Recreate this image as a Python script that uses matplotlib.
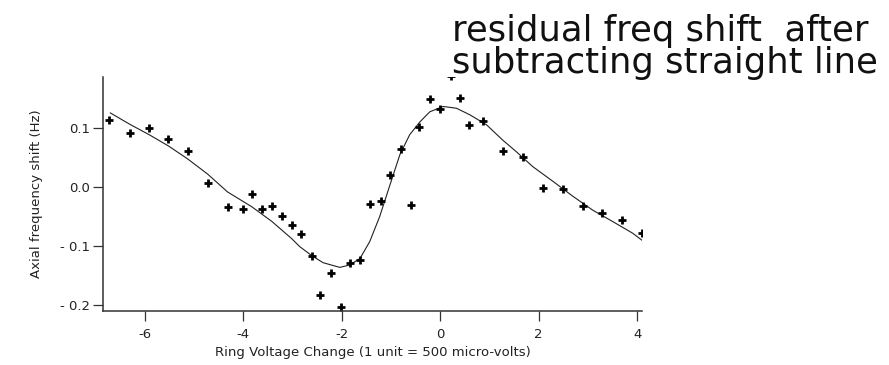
import matplotlib
matplotlib.use("Agg")
import matplotlib.pyplot as plt

# ---- data ----
x_pts = [-6.72, -6.31, -5.91, -5.52, -5.13, -4.72, -4.32, -4.01, -3.83, -3.61,
         -3.42, -3.21, -3.02, -2.83, -2.61, -2.44, -2.21, -2.02, -1.84, -1.62,
         -1.43, -1.21, -1.02, -0.80, -0.60, -0.43, -0.21, -0.01, 0.21, 0.40,
         0.58, 0.87, 1.27, 1.68, 2.09, 2.49, 2.91, 3.29, 3.70, 4.09]
y_pts = [0.114, 0.092, 0.101, 0.082, 0.061, 0.008, -0.033, -0.037, -0.012, -0.037,
         -0.032, -0.048, -0.064, -0.080, -0.116, -0.183, -0.146, -0.203, -0.128, -0.124,
         -0.028, -0.023, 0.020, 0.065, -0.030, 0.103, 0.149, 0.133, 0.188, 0.151,
         0.106, 0.113, 0.061, 0.051, -0.001, -0.003, -0.032, -0.044, -0.056, -0.078]

x_fit = [-6.70, -6.31, -5.91, -5.52, -5.13, -4.72, -4.32, -3.83, -3.42, -3.02,
         -2.85, -2.61, -2.38, -2.04, -1.84, -1.63, -1.43, -1.23, -1.02, -0.82,
         -0.62, -0.41, -0.21, 0.06, 0.33, 0.60, 0.94, 1.27, 1.55, 1.88,
         2.29, 2.69, 3.10, 3.50, 3.91, 4.10]
y_fit = [0.126, 0.107, 0.089, 0.070, 0.048, 0.022, -0.008, -0.033, -0.058, -0.087,
         -0.101, -0.116, -0.128, -0.136, -0.132, -0.121, -0.092, -0.050, 0.004, 0.055,
         0.089, 0.111, 0.128, 0.137, 0.134, 0.123, 0.106, 0.080, 0.060, 0.035,
         0.010, -0.015, -0.039, -0.058, -0.078, -0.090]

x_ticks = [-6, -4, -2, 0, 2, 4]
x_ticklabels = ["-6", "-4", "-2", "0", "2", "4"]
y_ticks = [-0.2, -0.1, 0.0, 0.1]
y_ticklabels = ["- 0.2", "- 0.1", "0.0", "0.1"]

x_label = "Ring Voltage Change (1 unit = 500 micro-volts)"
y_label = "Axial frequency shift (Hz)"
title_lines = ["residual freq shift  after", "subtracting straight line"]

plt.rcParams['font.family'] = ['DejaVu Sans']
plt.rcParams['axes.unicode_minus'] = False

W, H = 889, 365
fig = plt.figure(figsize=(W / 100, H / 100), dpi=100)
ax = fig.add_axes([103 / W, 1 - 311 / H, (642 - 103) / W, (311 - 77) / H])

ax.plot(x_fit, y_fit, color="#222222", lw=0.8)
ax.plot(x_pts, y_pts, linestyle="none", marker="+", ms=5.5, mew=2.0, color="black")

ax.set_xlim(-6.85, 4.1)
ax.set_ylim(-0.210, 0.187)

ax.set_xticks(x_ticks)
ax.set_xticklabels(x_ticklabels)
ax.set_yticks(y_ticks)
ax.set_yticklabels(y_ticklabels)

for s in ["top", "right"]:
    ax.spines[s].set_visible(False)
for s in ["left", "bottom"]:
    ax.spines[s].set_color("#333333")
    ax.spines[s].set_linewidth(1.1)

ax.tick_params(axis="both", direction="out", length=7, width=0.9, color="#333333",
               labelsize=9.5, labelcolor="#222222")
ax.tick_params(axis="x", pad=5.5)
ax.tick_params(axis="y", pad=2.5)

ax.set_xlabel(x_label, fontsize=9.5, color="#222222", labelpad=3)
ax.set_ylabel(y_label, fontsize=9.5, color="#222222", labelpad=12)

fig.text(452 / W, 1 - 41 / H, title_lines[0], fontsize=25.5, color="#111111", va="baseline", ha="left")
fig.text(452 / W, 1 - 73 / H, title_lines[1], fontsize=25.5, color="#111111", va="baseline", ha="left")

fig.savefig("out.png", dpi=100)
